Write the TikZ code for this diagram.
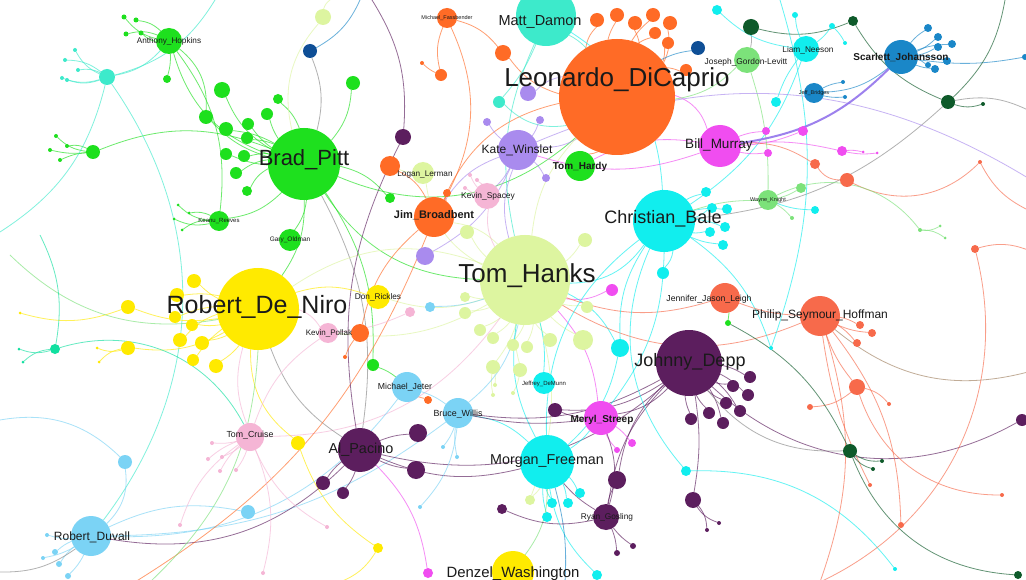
\documentclass[tikz,border=0pt]{standalone}
\usepackage{fontspec}
\setmainfont{Liberation Sans}
\pgfdeclarelayer{bg}
\pgfsetlayers{bg,main}
\definecolor{cOr}{HTML}{FF6B26}
\definecolor{cTq}{HTML}{3DEACB}
\definecolor{cGr}{HTML}{1EE01E}
\definecolor{cHk}{HTML}{DDF5A0}
\definecolor{cYe}{HTML}{FFEA00}
\definecolor{cCy}{HTML}{11EEEE}
\definecolor{cPu}{HTML}{5C1E5E}
\definecolor{cLv}{HTML}{A98BEE}
\definecolor{cLv2}{HTML}{8C6CEB}
\definecolor{cMg}{HTML}{F04DF0}
\definecolor{cLb}{HTML}{7BD3F5}
\definecolor{cPk}{HTML}{F5B5D5}
\definecolor{cSa}{HTML}{F76A4B}
\definecolor{cBl}{HTML}{1A87C8}
\definecolor{cDb}{HTML}{0F4F96}
\definecolor{cDg}{HTML}{0E5A2A}
\definecolor{cLg}{HTML}{7CE27A}
\definecolor{cTl}{HTML}{11E0A0}
\definecolor{cGy}{HTML}{888888}
\definecolor{cBr}{HTML}{A08060}
\definecolor{labc}{HTML}{1A1A1A}
\tikzset{
  hub/.style={circle,inner sep=0pt,outer sep=0pt,draw=none},
  lab/.style={inner sep=0pt,text=labc},
  ed/.style={line width=0.8pt,draw opacity=0.65},
  thick edge/.style={line width=2pt,draw opacity=0.85},
}
\newcommand{\fs}[1]{\fontsize{#1}{#1}\selectfont}
\begin{document}
\begin{tikzpicture}[x=1pt,y=-1pt]
\useasboundingbox (0,0) rectangle (1026,580);
% free ends
\coordinate (fA) at (0,232);
\coordinate (fB) at (215,0);
\coordinate (fC) at (0,572);
\coordinate (fD) at (135,582);
\coordinate (fE) at (1028,178);
\coordinate (fF) at (1028,210);
\coordinate (fG) at (820,582);
\coordinate (fH) at (1005,0);
\coordinate (fI) at (372,0);
\coordinate (fJ) at (565,582);
\coordinate (fK) at (1028,372);
\coordinate (fM) at (40,235);
\coordinate (fN) at (10,255);
\coordinate (fO) at (340,582);
\coordinate (fP) at (360,0);
\coordinate (fQ) at (780,0);
\coordinate (fR) at (1028,250);
\coordinate (fT) at (330,0);
\coordinate (fU) at (0,420);
\coordinate (fV) at (1028,110);
\coordinate (fW) at (150,582);
% hubs
\foreach \n/\x/\y/\d/\c in {
 leo/617/97/116/cOr, matt/546/16/60/cTq, brad/304/164/72/cGr, hanks/525/280/90/cHk,
 deniro/258/309/82/cYe, bale/664/221/62/cCy, depp/689/363/66/cPu, kate/518/150/40/cLv,
 hardy/580/166/30/cGr, murray/720/146/42/cMg, broad/434/217/40/cOr, spacey/487/196/26/cPk,
 lerman/423/173/22/cHk, rickles/378/297/24/cYe, pollak/328/333/20/cPk, jeter/407/387/30/cLb,
 willis/458/413/30/cLb, streep/601/418/34/cMg, freeman/547/462/54/cCy, pacino/360/450/44/cPu,
 cruise/250/437/28/cPk, duvall/91/536/40/cLb, denzel/513/572/42/cYe, gosling/606/517/26/cPu,
 jjl/725/298/30/cSa, psh/820/316/40/cSa, scar/901/57/34/cBl, neeson/806/49/26/cCy,
 jgl/747/60/26/cLg, hopkins/169/41/26/cGr, bridges/814/93/20/cBl, knight/768/200/20/cLg,
 oldman/290/240/22/cGr, keanu/219/221/20/cGr, demunn/544/383/22/cCy, fass/447/18/20/cOr}
 \node[hub,fill=\c,minimum size=\d pt] (\n) at (\x,\y) {};
% small nodes
\foreach \n/\x/\y/\d/\c in {
 g1/222/90/16/cGr, g2/206/117/14/cGr, g3/226/129/14/cGr, g4/248/124/12/cGr, g5/247/138/12/cGr,
 g6/267/114/12/cGr, g7/278/99/10/cGr, g8/226/154/12/cGr, g9/244/156/12/cGr, g10/236/173/12/cGr,
 g11/247/191/10/cGr, g12/93/152/14/cGr, g13/167/79/8/cGr, g14/353/83/14/cGr, g15/390/198/10/cGr,
 g16/373/365/12/cGr, g17/728/323/6/cGr,
 gt1/124/17/5/cGr, gt2/136/20/5/cGr, gt3/141/33/5/cGr, gt4/126/34/5/cGr,
 gt5/56/136/4/cGr, gt6/50/150/4/cGr, gt7/60/160/4/cGr, gt8/67/146/4/cGr,
 gt9/178/205/3/cGr, gt10/189/213/3/cGr, gt11/174/219/3/cGr, gt12/182/230/3/cGr,
 c1/107/77/16/cTq, ct1/75/50/4/cTq, ct2/65/60/4/cTq, ct3/62/78/4/cTq, ct4/78/70/4/cTq, ct5/67/80/4/cTq,
 db1/310/51/14/cDb, db2/698/48/14/cDb,
 o1/597/20/14/cOr, o2/617/15/14/cOr, o3/635/23/14/cOr, o4/653/15/14/cOr, o5/670/23/14/cOr,
 o6/655/33/12/cOr, o7/668/43/12/cOr, o8/503/53/16/cOr, o9/441/75/12/cOr, o10/422/63/4/cOr,
 o11/390/166/20/cOr, o12/447/193/8/cOr, o13/360/333/18/cOr, o14/428/400/8/cOr, o15/345/357/4/cOr,
 o16/686/70/12/cOr,
 sa1/860/325/8/cSa, sa2/872/333/8/cSa, sa3/857/343/8/cSa, sa4/857/387/16/cSa, sa5/810/407/6/cSa,
 sa6/889/404/4/cSa, sa7/870/485/4/cSa, sa8/901/525/6/cSa, sa9/1002/495/4/cSa, sa10/815/164/10/cSa,
 sa11/847/180/14/cSa, sa12/980/162/4/cSa, sa13/975/249/8/cSa,
 h1/465/297/10/cHk, h2/465/313/12/cHk, h3/480/330/12/cHk, h4/493/338/12/cHk, h5/513/345/12/cHk,
 h6/527/347/12/cHk, h7/550/340/14/cHk, h8/583/340/20/cHk, h9/587/307/12/cHk, h10/493/367/14/cHk,
 h11/520/370/14/cHk, h12/495/385/4/cHk, h13/493/395/4/cHk, h14/513/393/4/cHk, h15/530/500/10/cHk,
 h16/467/232/14/cHk, h17/585/240/14/cHk, h18/323/17/16/cHk,
 cy1/620/348/18/cCy, cy2/663/273/12/cCy, cy3/580/493/10/cCy, cy4/568/503/10/cCy, cy5/552/503/10/cCy,
 cy6/547/517/10/cCy, cy7/597/575/10/cCy, cy8/686/471/10/cCy, cy9/771/348/4/cCy, cy10/895/569/4/cCy,
 cy11/499/102/12/cTq, cy12/776/102/10/cCy, cy13/815/210/8/cCy, cy14/706/192/10/cCy, cy15/712/208/10/cCy,
 cy16/727/209/10/cCy, cy17/710/232/10/cCy, cy18/725/227/10/cCy, cy19/723/245/10/cCy, cy20/717/10/10/cCy,
 cy21/795/15/6/cCy, cy22/832/26/6/cCy, cy23/845/43/4/cCy,
 p1/555/410/14/cPu, p2/418/433/18/cPu, p3/416/470/18/cPu, p4/343/493/12/cPu, p5/617/480/18/cPu,
 p6/502/509/10/cPu, p7/617/553/6/cPu, p8/633/546/6/cPu, p9/403/137/16/cPu, p10/323/483/14/cPu,
 p11/750/377/12/cPu, p12/733/386/12/cPu, p13/748/395/12/cPu, p14/726/403/12/cPu, p15/740/411/12/cPu,
 p16/709/413/12/cPu, p17/723/423/12/cPu, p18/691/419/12/cPu, p19/693/500/16/cPu, p20/707/530/4/cPu,
 p21/719/523/4/cPu, p22/1022/420/12/cPu,
 m1/612/290/12/cMg, m2/632/443/8/cMg, m3/617/450/6/cMg, m4/428/573/10/cMg, m5/766/131/8/cMg,
 m6/803/131/10/cMg, m7/842/151/10/cMg, m8/768/153/8/cMg, m9/863/152/3/cMg, m10/877/153/3/cMg,
 lv1/528/93/16/cLv, lv2/487/122/8/cLv, lv3/540/120/8/cLv, lv4/546/178/8/cLv, lv5/425/256/18/cLv,
 pk1/470/175/4/cPk, pk2/477/180/4/cPk, pk3/465/188/4/cPk, pk4/410/312/10/cPk, pk5/212/443/4/cPk,
 pk6/208/459/4/cPk, pk7/222/457/4/cPk, pk8/220/471/4/cPk, pk9/236/470/4/cPk, pk10/180/525/4/cPk,
 pk11/263/573/4/cPk, pk12/327/527/4/cPk,
 lb1/430/307/10/cLb, lb2/125/462/14/cLb, lb3/248/512/14/cLb, lb4/47/535/4/cLb, lb5/55/552/6/cLb,
 lb6/43/558/4/cLb, lb7/59/564/6/cLb, lb8/68/576/6/cLb, lb9/443/447/4/cLb, lb10/457/457/4/cLb, lb11/420/507/4/cLb,
 y1/194/281/14/cYe, y2/177/295/14/cYe, y3/128/307/14/cYe, y4/175/317/12/cYe, y5/192/325/12/cYe,
 y6/180/340/14/cYe, y7/202/343/14/cYe, y8/193/360/12/cYe, y9/216/366/14/cYe, y10/128/348/14/cYe,
 y11/298/443/14/cYe, y12/378/548/10/cYe, yt1/20/313/3/cYe, yt2/97/348/3/cYe, yt3/99/362/3/cYe,
 t1/55/349/10/cTl, tt1/19/349/3/cTl, tt2/23/362/3/cTl,
 dg1/751/27/16/cDg, dg2/853/21/10/cDg, dg3/948/102/14/cDg, dg4/983/104/4/cDg, dg5/850/451/14/cDg,
 dg6/873/469/4/cDg, dg7/882/461/4/cDg, dg8/1018/575/8/cDg,
 b1/928/28/8/cBl, b2/938/37/8/cBl, b3/952/44/8/cBl, b4/938/47/8/cBl, b5/947/61/8/cBl,
 b6/935/69/8/cBl, b7/928/65/6/cBl, b8/1025/57/6/cBl, b9/843/82/4/cBl, b10/845/97/4/cBl,
 lg1/801/188/10/cLg, lg2/792/218/4/cLg, lg3/920/230/4/cLg, lg4/940/226/3/cLg, lg5/945/238/3/cLg}
 \node[hub,fill=\c,minimum size=\d pt] (\n) at (\x,\y) {};
% edges
\begin{pgfonlayer}{bg}
\fill[white] (0,0) rectangle (1026,580);
\begin{scope}
\clip (0,0) rectangle (1026,580);
\foreach \a/\b/\c/\k [evaluate=\k as \kk using 1.8*\k] in {
 brad/g1/cGr/10, brad/g2/cGr/8, brad/g3/cGr/-6, brad/g4/cGr/5, brad/g5/cGr/-5, brad/g6/cGr/5,
 brad/g7/cGr/-8, brad/g8/cGr/5, brad/g9/cGr/-5, brad/g10/cGr/-8, brad/g11/cGr/-10,
 brad/oldman/cGr/8, brad/keanu/cGr/10, brad/hopkins/cGr/15, hopkins/g2/cGr/15, hopkins/keanu/cGr/12,
 hopkins/gt1/cGr/10, hopkins/gt2/cGr/-10, hopkins/gt3/cGr/10, hopkins/gt4/cGr/-10, hopkins/g13/cGr/5,
 hopkins/c1/cTq/10, g12/gt5/cGr/10, g12/gt6/cGr/5, g12/gt7/cGr/-5, g12/gt8/cGr/-10, g12/brad/cGr/12,
 keanu/gt9/cGr/10, keanu/gt10/cGr/-10, keanu/gt11/cGr/10, keanu/gt12/cGr/-10,
 c1/ct1/cTq/10, c1/ct2/cTq/-10, c1/ct3/cTq/10, c1/ct4/cTq/-10, c1/ct5/cTq/10, c1/fA/cTq/12, c1/fB/cTq/-12,
 c1/duvall/cTq/20,
 brad/g14/cGr/-10, brad/g15/cGr/10, brad/g16/cGr/10, brad/hanks/cGr/-15, brad/leo/cGr/-18,
 brad/pacino/cGy/10, brad/deniro/cGr/10, db1/brad/cGy/10, db1/fP/cBl/-10,
 leo/o1/cOr/10, leo/o2/cOr/5, leo/o3/cOr/-5, leo/o4/cOr/5, leo/o5/cOr/-10, leo/o6/cOr/5, leo/o7/cOr/-5,
 leo/o8/cOr/10, leo/o16/cOr/5, leo/lv1/cLv/-10, leo/kate/cLv/10, leo/hardy/cOr/5, leo/matt/cTq/-5,
 leo/murray/cMg/15, leo/jgl/cLg/-10, leo/broad/cOr/-15, leo/hanks/cHk/-10, leo/db2/cBl/5, leo/cy11/cTq/15,
 fass/o8/cOr/10, fass/o9/cOr/-10, fass/broad/cOr/15, o9/o10/cOr/5,
 hanks/h1/cHk/5, hanks/h2/cHk/5, hanks/h3/cHk/5, hanks/h4/cHk/5, hanks/h5/cHk/5, hanks/h6/cHk/5,
 hanks/h7/cHk/-5, hanks/h8/cHk/-5, hanks/h9/cHk/-5, hanks/h10/cHk/5, hanks/h11/cHk/-5,
 h10/h12/cHk/5, h10/h13/cHk/-5, h11/h14/cHk/5, hanks/rickles/cHk/10, hanks/pollak/cHk/10,
 hanks/broad/cHk/-10, hanks/spacey/cPk/10, hanks/lerman/cHk/15, hanks/willis/cLb/10,
 hanks/freeman/cCy/-10, hanks/streep/cMg/10, hanks/deniro/cHk/-15, hanks/cruise/cPk/15,
 hanks/h16/cHk/5, hanks/h17/cHk/-5, hanks/h15/cHk/10, hanks/lb1/cLb/5, hanks/m1/cMg/-10,
 hanks/cy1/cCy/10, hanks/demunn/cCy/5, hanks/jjl/cSa/-10, hanks/psh/cSa/-15, hanks/bale/cCy/-15,
 hanks/kate/cLv/10, hanks/matt/cTq/10,
 deniro/y1/cYe/5, deniro/y2/cYe/-5, deniro/y3/cYe/8, deniro/y4/cYe/-5, deniro/y5/cYe/5, deniro/y6/cYe/-8,
 deniro/y7/cYe/5, deniro/y8/cYe/-5, deniro/y9/cYe/5, deniro/y10/cYe/10, y3/yt1/cYe/10, y10/yt2/cYe/10,
 y10/yt3/cYe/-10, deniro/pacino/cGy/-10, deniro/cruise/cPk/-10, deniro/rickles/cYe/10,
 deniro/pollak/cPk/10, deniro/y11/cYe/-15, y11/y12/cYe/-10, y12/fO/cYe/10, deniro/fN/cLg/15,
 t1/tt1/cTl/10, t1/tt2/cTl/-10, t1/cruise/cTl/22, t1/fM/cTl/-10,
 duvall/lb4/cLb/5, duvall/lb5/cLb/-5, duvall/lb6/cLb/5, duvall/lb7/cLb/-5, duvall/lb8/cLb/5,
 duvall/lb2/cLb/-15, duvall/lb3/cLb/10, duvall/jeter/cLb/-15, duvall/willis/cLb/-10,
 duvall/pacino/cPu/-15, duvall/fC/cGy/10, fD/broad/cOr/-10, fU/lb2/cLb/15, fW/deniro/cLg/-12,
 cruise/pk5/cPk/5, cruise/pk6/cPk/-5, cruise/pk7/cPk/5, cruise/pk8/cPk/-5, cruise/pk9/cPk/5,
 cruise/pk10/cPk/-10, cruise/pk11/cPk/10, cruise/pk12/cPk/-10, cruise/pollak/cPk/10,
 pacino/p2/cPu/5, pacino/p3/cPu/-5, pacino/p4/cPu/5, pacino/p10/cPu/-5, pacino/freeman/cPu/-10,
 pacino/depp/cPu/-15, pacino/p9/cPu/10, p9/fI/cPu/-10, pacino/m4/cMg/10,
 freeman/cy3/cCy/5, freeman/cy4/cCy/5, freeman/cy5/cCy/-5, freeman/cy6/cCy/-5, freeman/cy7/cCy/-10,
 freeman/h15/cHk/5, freeman/denzel/cLg/10, freeman/gosling/cPu/-5, freeman/streep/cCy/-5,
 freeman/bale/cCy/15, freeman/willis/cCy/-10, freeman/fJ/cBl/5,
 depp/p11/cPu/5, depp/p12/cPu/-5, depp/p13/cPu/5, depp/p14/cPu/-5, depp/p15/cPu/5, depp/p16/cPu/-5,
 depp/p17/cPu/5, depp/p18/cPu/-5, depp/p19/cPu/5, p19/p20/cPu/10, p19/p21/cPu/-10,
 depp/streep/cPu/10, depp/willis/cPu/10, depp/p22/cPu/-20, depp/p1/cPu/10, depp/p5/cPu/-10,
 depp/gosling/cPu/-10, depp/dg5/cGy/-15,
 streep/m2/cMg/5, streep/m3/cMg/-5, streep/p1/cPu/5, streep/willis/cPu/5, streep/gosling/cPu/10,
 streep/bale/cCy/-10, gosling/p7/cPu/5, gosling/p8/cPu/-5, gosling/p5/cPu/5, gosling/p6/cPu/10,
 bale/cy14/cCy/5, bale/cy15/cCy/-5, bale/cy16/cCy/5, bale/cy17/cCy/-5, bale/cy18/cCy/5, bale/cy19/cCy/-5,
 bale/cy2/cCy/10, bale/cy1/cCy/-10, bale/neeson/cCy/-10, bale/matt/cCy/-15, bale/dg3/cGy/-10,
 bale/knight/cLg/5, bale/cy8/cCy/-18, cy8/cy10/cCy/15, bale/cy9/cCy/10, cy9/fQ/cCy/-10,
 murray/m5/cMg/5, murray/m6/cMg/-5, murray/m7/cMg/5, murray/m8/cMg/-5, m7/m9/cMg/5, m7/m10/cMg/-5,
 murray/sa10/cSa/10, murray/hardy/cMg/-10, murray/kate/cMg/10,
 psh/sa1/cSa/5, psh/sa2/cSa/-5, psh/sa3/cSa/5, psh/sa4/cSa/-5, sa4/sa5/cSa/10, sa4/sa6/cSa/10,
 psh/jjl/cSa/5, psh/sa7/cSa/-5, psh/sa8/cSa/10, sa4/sa9/cSa/-20, sa10/sa11/cSa/-15, sa11/sa12/cSa/-20,
 sa12/fF/cSa/-10, psh/fG/cSa/10, psh/fK/cBr/-15, sa13/fR/cSa/10, sa13/fG/cSa/22,
 jjl/g17/cGr/5, g17/dg5/cDg/10, dg5/dg6/cDg/-10, dg5/dg7/cDg/-10, dg5/dg8/cDg/-18,
 scar/b1/cBl/5, scar/b2/cBl/-5, scar/b3/cBl/5, scar/b4/cBl/-5, scar/b5/cBl/5, scar/b6/cBl/-5,
 scar/b7/cBl/5, scar/b8/cBl/-5, scar/bridges/cBl/10, bridges/b9/cBl/5, bridges/b10/cBl/-5,
 dg1/dg2/cDg/-10, dg3/dg2/cDg/10, dg3/dg4/cDg/-10, dg3/fH/cDg/-10, dg1/jgl/cGy/5, dg3/fV/cGy/10,
 jgl/knight/cLg/5, knight/lg1/cLg/-5, knight/lg2/cLg/5, knight/lg3/cLg/22, lg3/lg4/cLg/-10, lg3/lg5/cLg/10,
 kate/lv2/cLv/5, kate/lv3/cLv/-5, kate/lv4/cLv/5, kate/lv5/cLv/10, kate/broad/cLv/-10,
 kate/spacey/cLv/5, kate/fE/cLv/15,
 spacey/pk1/cPk/5, spacey/pk2/cPk/-5, spacey/pk3/cPk/5,
 cy11/matt/cTq/-5, cy12/neeson/cCy/5, cy13/knight/cCy/5, neeson/cy21/cCy/5, neeson/cy22/cCy/-5,
 cy22/cy23/cCy/5, neeson/cy20/cCy/10, pk4/pollak/cPk/5, o13/broad/cOr/10, o14/jeter/cOr/5,
 o15/o13/cOr/5, g16/jeter/cGr/5, h18/brad/cHk/-15, h18/fT/cHk/10, o11/broad/cOr/10,
 lerman/o11/cHk/5, o12/broad/cOr/5, willis/lb9/cLb/5, willis/lb10/cLb/-5, willis/lb11/cLb/10,
 jeter/willis/cLb/5, cy1/freeman/cCy/10}
 \draw[ed,draw=\c] (\a) to[bend left=\kk] (\b);
\draw[thick edge,draw=cLv2] (murray) to[bend right=18] (scar);
\end{scope}
\end{pgfonlayer}
% labels
\node[lab,font=\fs{26}] (lleo) at (617,80) {Leonardo\_DiCaprio};
\node[lab,font=\fs{14.5}] (lmatt) at (540,22) {Matt\_Damon};
\node[lab,font=\fs{22}] (lbrad) at (304,160) {Brad\_Pitt};
\node[lab,font=\fs{26}] (lhanks) at (527,276) {Tom\_Hanks};
\node[lab,font=\fs{25}] (lden) at (257,307) {Robert\_De\_Niro};
\node[lab,font=\fs{18}] (lbale) at (663,219) {Christian\_Bale};
\node[lab,font=\fs{18}] (ldepp) at (690,362) {Johnny\_Depp};
\node[lab,font=\fs{12}] (lkate) at (517,150) {Kate\_Winslet};
\node[lab,font=\bfseries\fs{10}] (lhardy) at (580,167) {Tom\_Hardy};
\node[lab,font=\fs{13.5}] (lmurray) at (719,145) {Bill\_Murray};
\node[lab,font=\bfseries\fs{11}] (lbroad) at (434,215) {Jim\_Broadbent};
\node[lab,font=\fs{8.4}] (lspacey) at (488,196) {Kevin\_Spacey};
\node[lab,font=\fs{8.2}] (llerman) at (425,175) {Logan\_Lerman};
\node[lab,font=\fs{8.2}] (lrick) at (378,297) {Don\_Rickles};
\node[lab,font=\fs{8}] (lpollak) at (329,333) {Kevin\_Pollak};
\node[lab,font=\fs{8.7}] (ljeter) at (405,387) {Michael\_Jeter};
\node[lab,font=\fs{8.9}] (lwillis) at (458,414) {Bruce\_Willis};
\node[lab,font=\bfseries\fs{10}] (lstreep) at (602,420) {Meryl\_Streep};
\node[lab,font=\fs{14.3}] (lfree) at (547,461) {Morgan\_Freeman};
\node[lab,font=\fs{14.4}] (lpac) at (361,450) {Al\_Pacino};
\node[lab,font=\fs{8.8}] (lcruise) at (250,435) {Tom\_Cruise};
\node[lab,font=\fs{12}] (lduv) at (92,537) {Robert\_Duvall};
\node[lab,font=\fs{14.9}] (lden2) at (513,574) {Denzel\_Washington};
\node[lab,font=\fs{8.3}] (lgos) at (607,517) {Ryan\_Gosling};
\node[lab,font=\fs{8.7}] (ljjl) at (709,299) {Jennifer\_Jason\_Leigh};
\node[lab,font=\fs{12}] (lpsh) at (820,315) {Philip\_Seymour\_Hoffman};
\node[lab,font=\bfseries\fs{10}] (lscar) at (901,57) {Scarlett\_Johansson};
\node[lab,font=\fs{8.3}] (lneeson) at (808,50) {Liam\_Neeson};
\node[lab,font=\fs{8.4}] (ljgl) at (746,62) {Joseph\_Gordon-Levitt};
\node[lab,font=\fs{8.2}] (lhop) at (169,41) {Anthony\_Hopkins};
\node[lab,font=\fs{6.5}] (lold) at (290,240) {Gary\_Oldman};
\node[lab,font=\fs{6}] (lkeanu) at (219,221) {Keanu\_Reeves};
\node[lab,font=\fs{5.5}] (lbridges) at (814,93) {Jeff\_Bridges};
\node[lab,font=\fs{5.5}] (lknight) at (768,200) {Wayne\_Knight};
\node[lab,font=\fs{6}] (ldemunn) at (544,384) {Jeffrey\_DeMunn};
\node[lab,font=\fs{5.5}] (lfass) at (447,18) {Michael\_Fassbender};
\end{tikzpicture}
\end{document}
